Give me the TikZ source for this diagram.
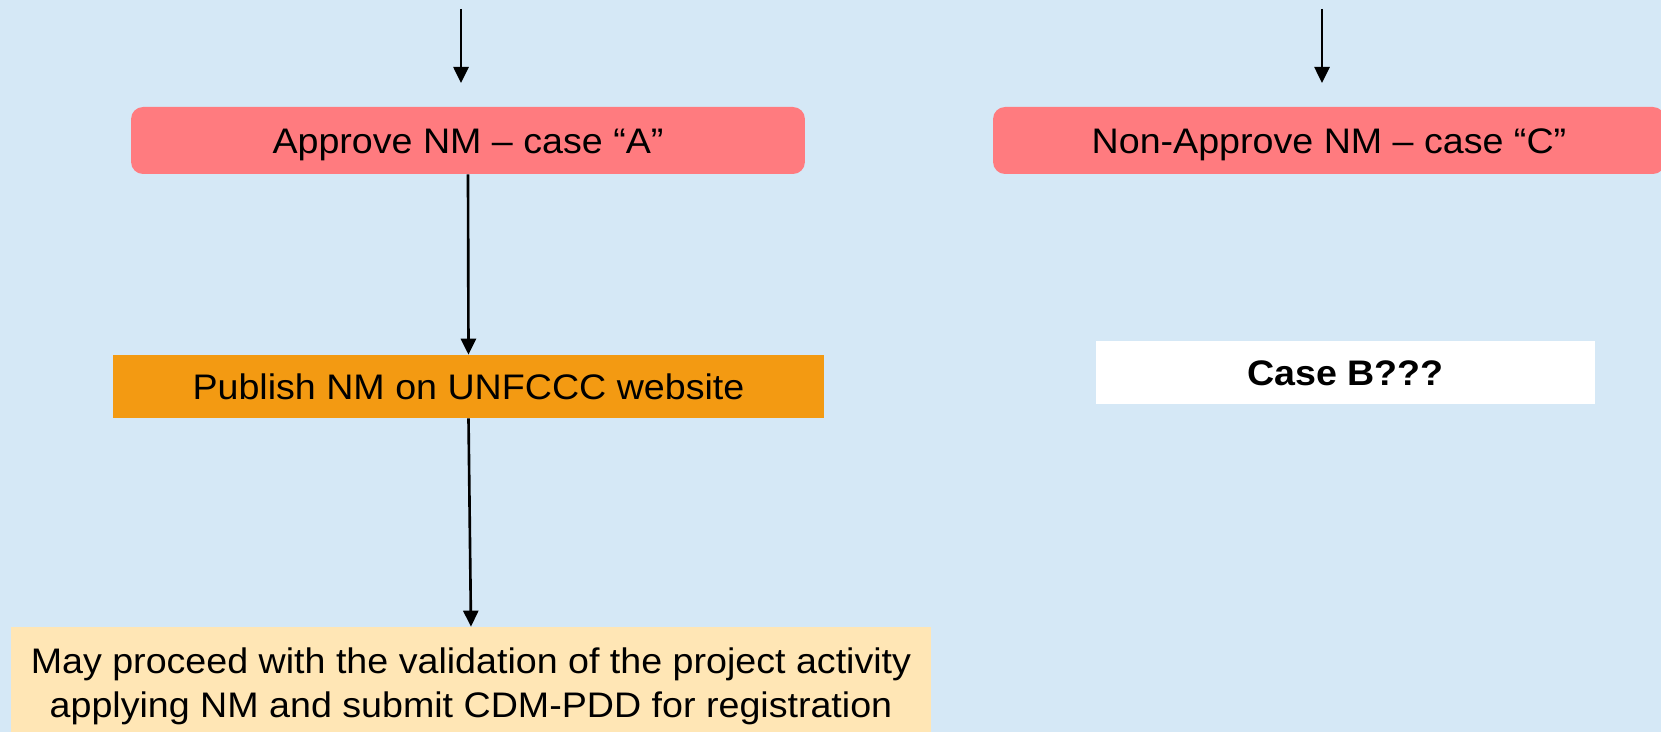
\documentclass[tikz,border=0pt]{standalone}
\usepackage{fontspec}
\setmainfont{Liberation Sans}[FakeStretch=1.06]
\usetikzlibrary{arrows.meta}
\definecolor{bgblue}{HTML}{D5E8F6}
\definecolor{boxred}{HTML}{FF7B7F}
\definecolor{boxorange}{HTML}{F39A12}
\definecolor{boxpeach}{HTML}{FFE6B5}
\begin{document}
\begin{tikzpicture}[x=0.02cm,y=-0.02cm,
  txt/.style={font=\fontsize{20.2}{25}\selectfont, text=black, inner sep=0pt, align=center},
  oneline/.style={txt, text height=14.4pt, text depth=0pt},
  redbox/.style={oneline, fill=boxred, rounded corners=0.24cm},
  orangebox/.style={oneline, fill=boxorange},
  peachbox/.style={txt, fill=boxpeach},
  whitebox/.style={oneline, fill=white, font=\fontsize{20.2}{25}\selectfont\bfseries},
  arr/.style={line width=1.5pt, draw=black, -{Triangle[length=0.32cm,width=0.3cm]}}
]
\fill[bgblue] (0,0) rectangle (1661,732);
\useasboundingbox (0,0) rectangle (1661,732);

\node[redbox, minimum width=13.48cm, minimum height=1.34cm] (appr) at (468,140.5) {Approve NM – case “A”};
\node[redbox, minimum width=13.44cm, minimum height=1.34cm] (nonappr) at (1329,140.5) {Non-Approve NM – case “C”};
\node[orangebox, minimum width=14.22cm, minimum height=1.26cm] (pub) at (468.5,386.5) {Publish NM on UNFCCC website};
\node[whitebox, minimum width=9.98cm, minimum height=1.28cm] (caseb) at (1345.5,372.5) {Case B???};
\node[peachbox, minimum width=18.4cm, minimum height=2.36cm] (may) at (471,686) {May proceed with the validation of the project activity\\applying NM and submit CDM-PDD for registration};

\coordinate (la) at (461,9);
\coordinate (lb) at (461,83);
\coordinate (ra) at (1322,9);
\coordinate (rb) at (1322,83);

\draw[arr] (la) -- (lb);
\draw[arr] (ra) -- (rb);
\draw[arr] (appr.south) -- (pub.north);
\draw[arr] (pub.south) -- (may.north);
\end{tikzpicture}
\end{document}
